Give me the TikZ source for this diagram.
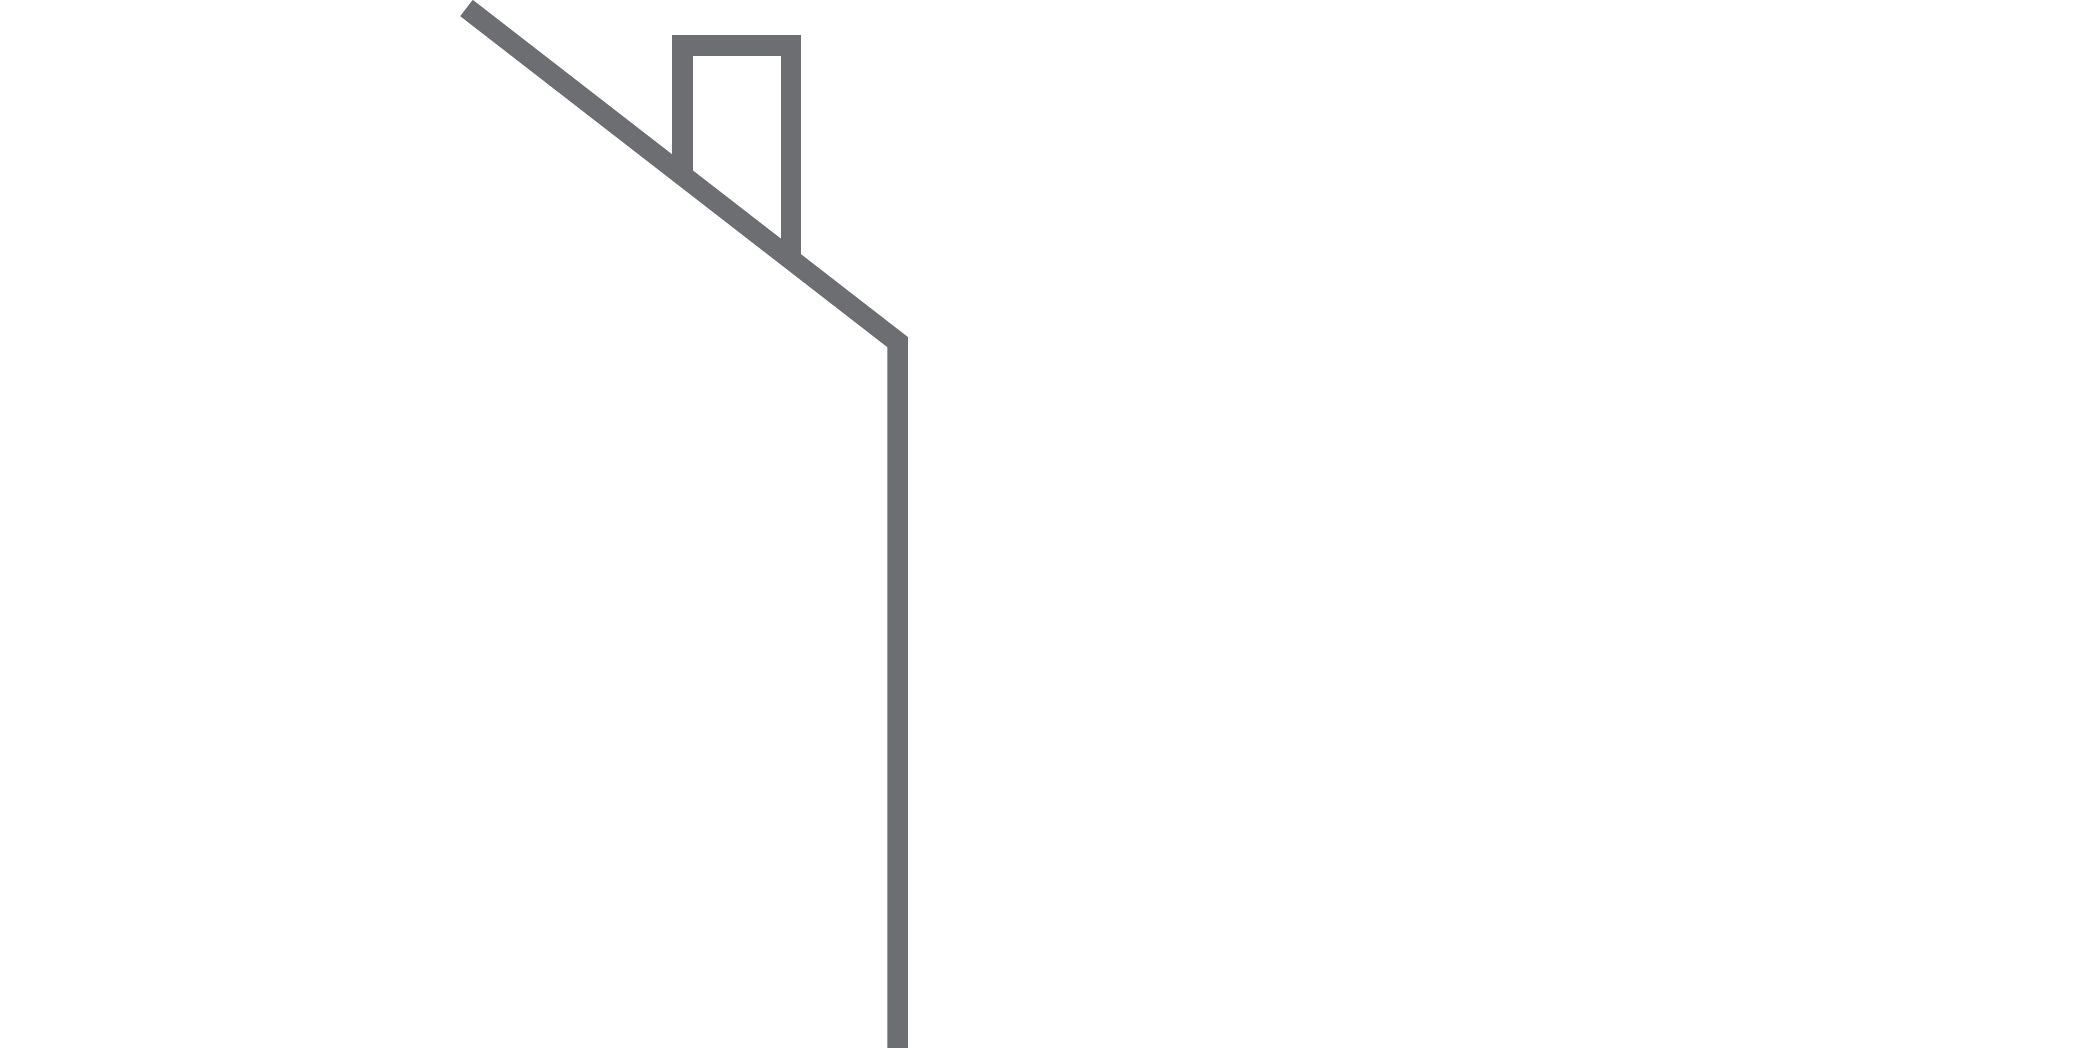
\documentclass[tikz,border=0pt]{standalone}
\definecolor{roofgray}{HTML}{6D6E71}
\begin{document}
\begin{tikzpicture}[x=0.01cm,y=-0.01cm,
  outline/.style={draw=roofgray,line width=0.205cm,miter limit=10,line join=miter}]
\useasboundingbox (0,0) rectangle (2093,1047);
\coordinate (roofstart) at (466.5,8);
\coordinate (eave) at (897.5,342);
\coordinate (ground) at (897.5,1052);
\coordinate (chimLtop) at (682.3,45.7);
\coordinate (chimRtop) at (791.2,45.7);
\coordinate (chimLbot) at (682.3,175);
\coordinate (chimRbot) at (791.2,259);
\draw[outline] (roofstart) -- (eave) -- (ground);
\draw[outline] (chimLbot) -- (chimLtop) -- (chimRtop) -- (chimRbot);
\end{tikzpicture}
\end{document}
